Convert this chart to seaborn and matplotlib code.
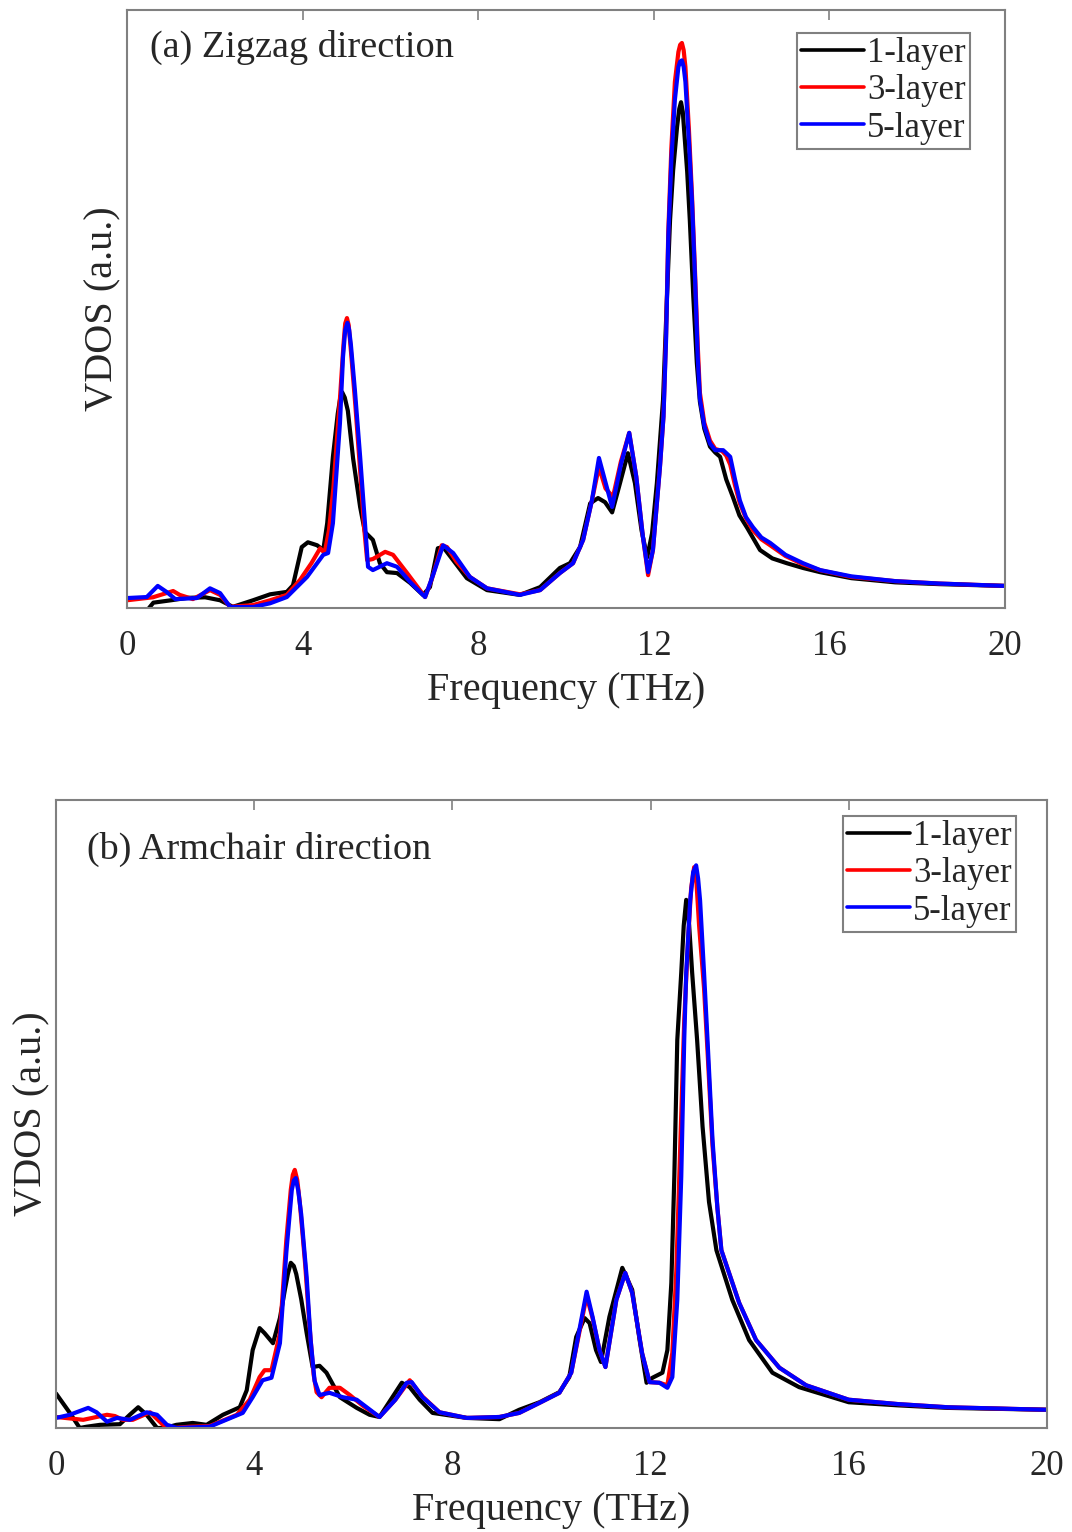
import pandas as pd
import matplotlib
matplotlib.use('Agg')
import matplotlib.pyplot as plt
import seaborn as sns

# ---- datos (frecuencia en THz, VDOS en u.a.) ----
layers = ['1-layer', '3-layer', '5-layer']
colors = ['black', 'red', 'blue']
tick_vals = [0, 4, 8, 12, 16, 20]

# (a) Zigzag
zz_f1 = [0.50, 0.60, 1.00, 1.37, 1.78, 2.12, 2.41, 2.87, 3.26, 3.64, 3.78, 3.98, 4.12, 4.33, 4.47,
         4.56, 4.69, 4.80, 4.86, 4.90, 4.96, 5.03, 5.15, 5.31, 5.42, 5.60, 5.76, 5.92, 6.15, 6.45, 6.74, 6.90,
         7.08, 7.20, 7.43, 7.74, 8.20, 8.95, 9.41, 9.86, 10.09, 10.32, 10.55, 10.73, 10.89, 11.05,
         11.23, 11.41, 11.57, 11.72, 11.85, 11.96, 12.07, 12.21, 12.30, 12.37, 12.44, 12.53, 12.58, 12.62,
         12.66, 12.69, 12.76, 12.82, 12.90, 12.98, 13.05, 13.15, 13.28, 13.40, 13.51, 13.65, 13.80, 13.95,
         14.12, 14.42, 14.70, 15.03, 15.40, 15.79, 16.50, 17.50, 18.50, 20.00]
zz_v1 = [0.0, 0.9, 1.3, 1.7, 1.8, 1.3, 0.2, 1.3, 2.3, 2.7, 3.8, 10.2, 11.0, 10.5, 9.7,
         14.2, 25.3, 32.5, 35.3, 36.1, 35.2, 33.0, 25.0, 16.9, 12.7, 11.4, 7.5, 6.0, 5.85, 4.2, 2.2, 3.5,
         10.0, 10.2, 8.0, 5.0, 3.0, 2.2, 3.5, 6.7, 7.5, 10.2, 17.5, 18.4, 17.7, 16.0,
         20.9, 25.9, 20.9, 13.0, 8.5, 12.5, 20.9, 34.8, 52.0, 64.9, 73.2, 80.5, 83.5, 84.6,
         83.0, 80.0, 73.0, 64.9, 52.0, 41.0, 34.5, 30.0, 27.0, 26.0, 25.3, 21.5, 18.6, 15.5,
         13.5, 9.7, 8.3, 7.5, 6.7, 6.0, 5.0, 4.3, 4.0, 3.7]

zz_f3 = [0.00, 0.59, 1.05, 1.20, 1.50, 1.89, 2.12, 2.35, 2.87, 3.26, 3.64, 3.94, 4.20, 4.40, 4.50,
         4.60, 4.70, 4.85, 4.93, 4.97, 5.01, 5.05, 5.10, 5.20, 5.31, 5.40, 5.47, 5.60, 5.88, 6.06, 6.38, 6.79,
         6.95, 7.17, 7.29, 7.50, 7.81, 8.20, 8.95, 9.41, 9.86, 10.16, 10.39, 10.59, 10.75, 10.90,
         11.07, 11.25, 11.44, 11.60, 11.75, 11.87, 11.98, 12.14, 12.22, 12.28, 12.33, 12.40, 12.48,
         12.56, 12.60, 12.64, 12.68, 12.72, 12.80, 12.87, 12.94, 13.00, 13.05, 13.15, 13.28, 13.40, 13.55, 13.65,
         13.74, 13.85, 13.96, 14.10, 14.26, 14.45, 14.65, 15.00, 15.40, 15.80, 16.50, 17.50, 18.50, 20.00]
zz_v3 = [1.3, 1.8, 2.85, 2.2, 1.5, 3.0, 2.2, 0.2, 0.5, 1.3, 2.2, 4.7, 7.5, 10.0, 9.2,
         13.0, 20.0, 35.0, 44.0, 47.6, 48.5, 47.3, 43.0, 34.0, 23.0, 13.5, 8.0, 8.2, 9.4, 8.9, 5.85, 1.84,
         5.0, 10.5, 10.2, 7.8, 5.2, 3.3, 2.3, 3.0, 5.85, 7.5, 11.4, 18.0, 23.6, 20.0,
         18.6, 24.5, 29.3, 22.0, 12.0, 5.5, 9.7, 23.6, 32.0, 46.0, 63.0, 77.0, 88.0,
         93.0, 94.2, 94.5, 93.3, 90.5, 80.0, 69.0, 56.0, 44.0, 36.0, 31.0, 28.0, 26.6, 26.3, 25.5,
         24.0, 20.5, 17.5, 15.0, 13.0, 11.5, 10.5, 8.7, 7.3, 6.3, 5.2, 4.5, 4.1, 3.7]

zz_f5 = [0.00, 0.45, 0.70, 0.90, 1.10, 1.59, 1.89, 2.12, 2.35, 2.87, 3.26, 3.64, 4.10, 4.47, 4.58,
         4.69, 4.85, 4.92, 4.97, 5.02, 5.06, 5.10, 5.19, 5.31, 5.42, 5.49, 5.60, 5.92, 6.15, 6.45, 6.79, 6.97,
         7.20, 7.43, 7.81, 8.20, 8.95, 9.41, 9.86, 10.16, 10.39, 10.59, 10.75, 10.90, 11.05, 11.25,
         11.44, 11.60, 11.75, 11.87, 11.98, 12.14, 12.22, 12.28, 12.33, 12.40, 12.48, 12.56, 12.60, 12.64,
         12.68, 12.72, 12.80, 12.87, 12.94, 13.00, 13.05, 13.15, 13.28, 13.40, 13.58, 13.74, 13.85, 13.96,
         14.10, 14.26, 14.45, 14.65, 15.00, 15.40, 15.79, 16.50, 17.50, 18.50, 20.00]
zz_v5 = [1.67, 1.84, 3.7, 2.7, 1.5, 1.67, 3.3, 2.5, 0.17, 0.17, 0.8, 1.84, 5.2, 8.9, 9.2,
         14.2, 30.9, 42.0, 46.5, 47.7, 46.5, 44.0, 36.5, 25.3, 14.2, 6.9, 6.35, 7.5, 6.9, 4.35, 1.84, 5.5,
         10.5, 9.2, 5.2, 3.3, 2.2, 3.0, 5.85, 7.5, 11.4, 18.0, 25.1, 21.0, 16.9, 24.0,
         29.3, 22.0, 12.0, 6.0, 9.7, 23.6, 32.0, 45.0, 62.0, 75.0, 85.0, 90.5, 91.4, 91.6,
         90.5, 88.0, 78.0, 68.0, 55.0, 42.0, 35.0, 30.5, 27.5, 26.4, 26.4, 25.3, 21.5, 18.0,
         15.2, 13.5, 11.8, 10.9, 8.9, 7.5, 6.35, 5.3, 4.5, 4.1, 3.7]

# (b) Armchair
ac_f1 = [0.00, 0.28, 0.48, 0.62, 0.89, 1.29, 1.49, 1.66, 1.83, 2.04, 2.20, 2.43, 2.76, 3.04, 3.37,
         3.71, 3.85, 3.97, 4.11, 4.21, 4.38, 4.52, 4.62, 4.68, 4.74, 4.80, 4.85, 4.95, 5.06, 5.18, 5.32, 5.46,
         5.73, 6.07, 6.33, 6.53, 6.79, 6.98, 7.14, 7.34, 7.60, 8.29, 8.95, 9.35, 9.76, 10.16, 10.36,
         10.50, 10.67, 10.77, 10.90, 11.00, 11.17, 11.43, 11.63, 11.78, 11.92, 12.04, 12.24, 12.34,
         12.42, 12.48, 12.54, 12.62, 12.67, 12.72, 12.78, 12.84, 12.94, 13.05, 13.18, 13.33, 13.65, 13.99, 14.46,
         15.00, 16.00, 17.00, 18.00, 20.00]
ac_v1 = [5.5, 2.4, 0.0, 0.2, 0.5, 0.6, 2.1, 3.3, 2.1, 0.0, 0.0, 0.5, 0.8, 0.5, 2.1,
         3.3, 6.0, 12.4, 15.9, 15.1, 13.5, 17.5, 22.0, 24.5, 26.3, 25.8, 24.5, 20.5, 15.1, 9.7, 9.9, 8.8,
         4.9, 3.2, 2.1, 1.75, 4.9, 7.2, 6.5, 4.5, 2.4, 1.6, 1.4, 2.9, 4.1, 5.7, 8.1,
         14.5, 17.5, 16.7, 12.4, 10.5, 17.7, 25.5, 22.0, 14.0, 7.2, 8.0, 8.8, 12.4,
         23.1, 40.0, 61.8, 72.5, 80.0, 84.1, 80.0, 72.5, 61.8, 48.0, 36.0, 28.3, 20.4, 14.0, 8.8,
         6.5, 4.1, 3.6, 3.2, 2.9]

ac_f3 = [0.00, 0.55, 1.03, 1.19, 1.35, 1.55, 1.90, 2.16, 2.36, 2.70, 3.10, 3.65, 3.91, 4.11, 4.21,
         4.35, 4.52, 4.65, 4.74, 4.78, 4.82, 4.87, 4.92, 5.03, 5.12, 5.20, 5.26, 5.36, 5.52, 5.73, 5.93, 6.20,
         6.53, 6.85, 7.14, 7.40, 7.74, 8.29, 8.95, 9.35, 9.76, 10.16, 10.40, 10.71, 10.83, 10.97,
         11.09, 11.31, 11.49, 11.63, 11.83, 11.98, 12.18, 12.34, 12.44, 12.52, 12.60, 12.68, 12.76,
         12.82, 12.88, 12.93, 12.98, 13.08, 13.15, 13.25, 13.35, 13.43, 13.79, 14.13, 14.60, 15.14, 16.00, 17.00,
         18.00, 20.00]
ac_v3 = [1.75, 1.3, 2.1, 1.9, 1.3, 1.3, 2.5, 0.5, 0.0, 0.2, 0.3, 2.1, 4.5, 8.1, 9.2,
         9.2, 15.1, 30.0, 38.0, 40.3, 41.1, 39.5, 36.0, 26.0, 16.0, 8.5, 5.7, 4.9, 6.4, 6.4, 5.25, 3.5,
         1.75, 4.5, 7.6, 5.0, 2.5, 1.6, 1.75, 2.4, 4.0, 5.6, 8.8, 21.0, 17.5, 12.4,
         9.7, 20.4, 24.7, 21.5, 11.9, 7.3, 7.2, 6.8, 12.0, 25.0, 45.0, 65.0, 78.0,
         86.0, 89.3, 86.5, 80.0, 70.0, 60.0, 45.0, 35.0, 28.3, 19.9, 14.0, 9.6, 6.8, 4.5, 3.8,
         3.3, 2.9]

ac_f5 = [0.00, 0.28, 0.65, 0.82, 1.03, 1.23, 1.49, 1.83, 2.04, 2.24, 2.44, 3.10, 3.77, 3.97, 4.17,
         4.35, 4.52, 4.65, 4.76, 4.80, 4.84, 4.89, 4.95, 5.06, 5.14, 5.22, 5.32, 5.52, 5.79, 6.07, 6.53, 6.85,
         7.08, 7.18, 7.40, 7.74, 8.29, 8.95, 9.35, 9.76, 10.16, 10.40, 10.71, 10.83, 10.97, 11.09,
         11.31, 11.49, 11.63, 11.83, 11.98, 12.18, 12.34, 12.44, 12.54, 12.62, 12.68, 12.72, 12.80,
         12.86, 12.92, 12.96, 13.00, 13.08, 13.15, 13.25, 13.35, 13.43, 13.79, 14.13, 14.60, 15.14, 16.00, 17.00,
         18.00, 20.00]
ac_v5 = [1.6, 2.1, 3.2, 2.5, 1.0, 1.6, 1.3, 2.5, 2.1, 0.5, 0.0, 0.2, 2.4, 4.9, 7.6,
         8.0, 13.5, 28.0, 37.9, 39.4, 39.8, 37.8, 34.0, 24.0, 14.0, 7.5, 5.25, 5.6, 4.9, 4.5, 1.75, 4.5,
         7.2, 7.3, 4.9, 2.5, 1.6, 1.75, 2.4, 4.0, 5.6, 8.8, 21.7, 17.7, 12.4, 9.7,
         20.4, 24.7, 21.5, 11.9, 7.3, 7.2, 6.4, 8.1, 20.4, 40.0, 61.8, 72.5, 84.0,
         88.5, 89.6, 87.5, 84.0, 72.5, 61.8, 46.0, 35.0, 28.3, 19.9, 14.0, 9.6, 6.8, 4.5, 3.8,
         3.3, 2.9]


def tabla(fs, vs):
    partes = []
    for lab, f, v in zip(layers, fs, vs):
        partes.append(pd.DataFrame({'freq': f, 'vdos': v, 'layer': lab}))
    return pd.concat(partes, ignore_index=True)


df_zz = tabla([zz_f1, zz_f3, zz_f5], [zz_v1, zz_v3, zz_v5])
df_ac = tabla([ac_f1, ac_f3, ac_f5], [ac_v1, ac_v3, ac_v5])

sns.set_style('white')
plt.rcParams['font.family'] = ['Liberation Serif', 'DejaVu Serif']

fig = plt.figure(figsize=(10.72, 15.32), dpi=100)
ax_a = fig.add_axes([0.1185, 0.6031, 0.819, 0.3903])
ax_b = fig.add_axes([0.0522, 0.0679, 0.9244, 0.4099])

paneles = [
    (ax_a, df_zz, '(a) Zigzag direction', (0.026, 0.937), (0.960, 0.9615)),
    (ax_b, df_ac, '(b) Armchair direction', (0.031, 0.922), (0.969, 0.9745)),
]

for ax, df, titulo, pos_t, pos_leg in paneles:
    sns.lineplot(data=df, x='freq', y='vdos', hue='layer', hue_order=layers,
                 palette=colors, estimator=None, linewidth=3.0, ax=ax,
                 solid_joinstyle='round', solid_capstyle='round')
    ax.set_xlim(0, 20)
    ax.set_ylim(0, 100)
    ax.set_xticks(tick_vals)
    ax.set_xticklabels([str(t) for t in tick_vals])
    ax.set_yticks([])
    ax.tick_params(axis='x', direction='in', top=True, length=7, width=1.2,
                   color='#808080', labelsize=25, pad=16)
    for sp in ax.spines.values():
        sp.set_color('#808080')
        sp.set_linewidth(1.5)
    ax.set_xlabel('Frequency (THz)', fontsize=29, labelpad=6)
    ax.set_ylabel('VDOS (a.u.)', fontsize=29, labelpad=4)
    ax.text(pos_t[0], pos_t[1], titulo, transform=ax.transAxes, fontsize=27.5,
            va='center', ha='left')
    h, l = ax.get_legend_handles_labels()
    leg = ax.legend(h, l, loc='upper right', bbox_to_anchor=pos_leg, fontsize=25,
                    frameon=True, fancybox=False, edgecolor='#808080', framealpha=1,
                    handlelength=1.8, handletextpad=0.1, labelspacing=0.12,
                    borderpad=0.12, borderaxespad=0)
    leg.get_frame().set_linewidth(1.5)
    for ln in leg.get_lines():
        ln.set_linewidth(2.6)

fig.savefig('out.png', dpi=100)
